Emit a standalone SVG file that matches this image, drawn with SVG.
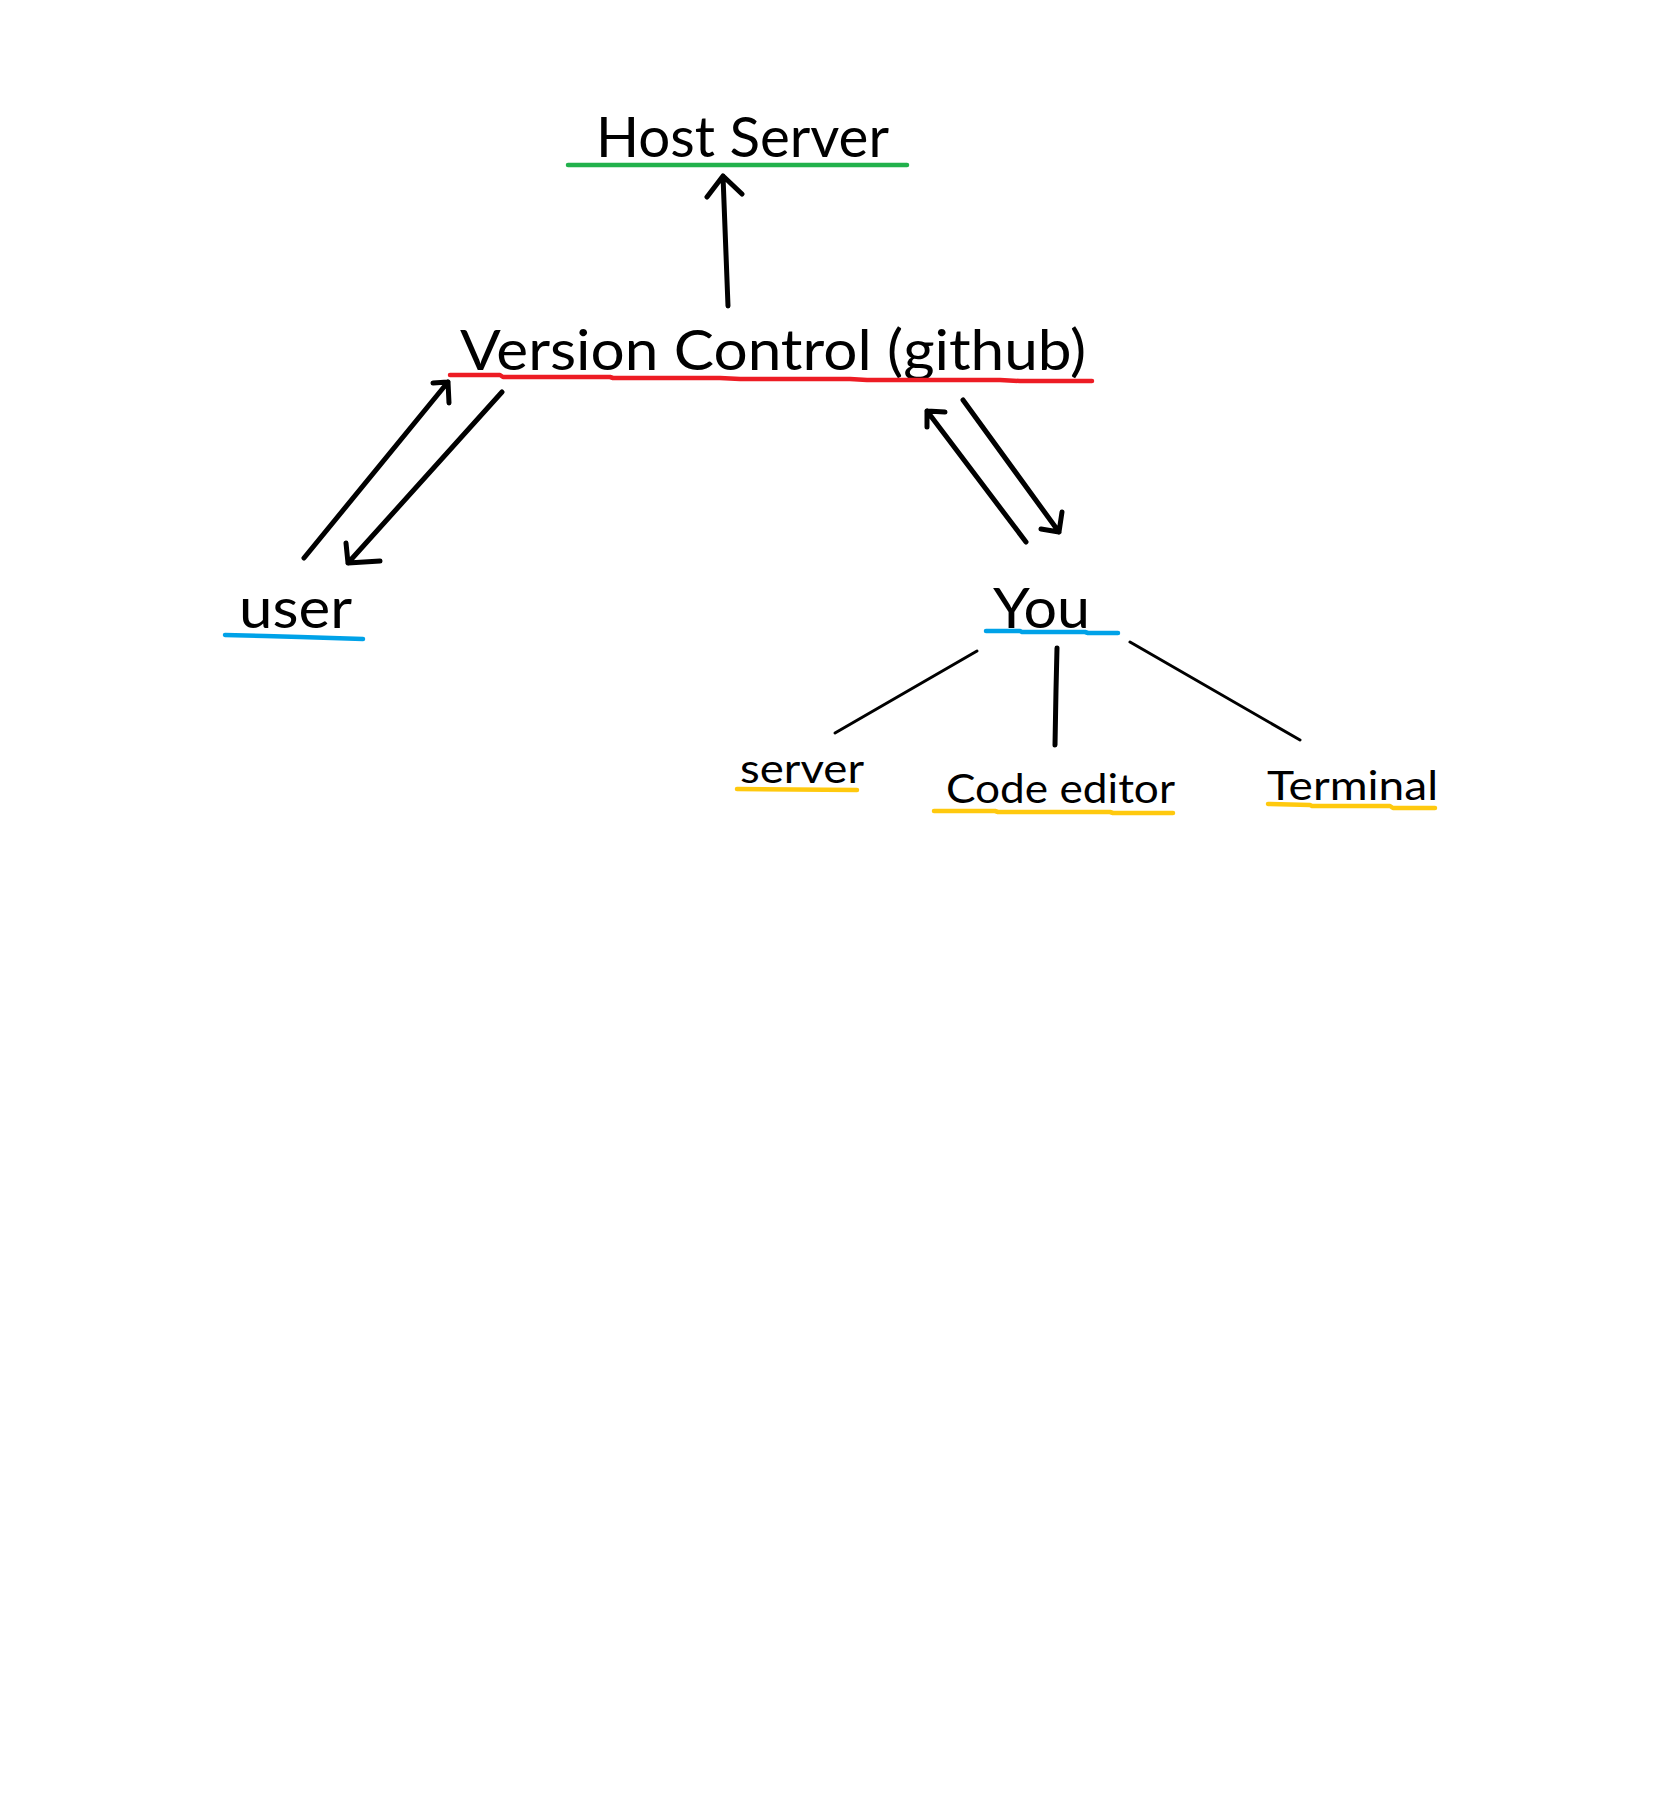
<svg xmlns="http://www.w3.org/2000/svg" width="1672" height="1808" viewBox="0 0 1672 1808">
<style>
  .lbl { font-family: Lato, "Open Sans", "Liberation Sans", sans-serif; fill: #000; }
  .big { font-size: 56px; }
  .small { font-size: 41px; }
  .ul { fill: none; stroke-width: 4.5; stroke-linecap: round; stroke-linejoin: round; }
  .green { stroke: #22b14c; }
  .red { stroke: #ed1c24; }
  .blue { stroke: #00a2e8; }
  .yellow { stroke: #ffc90e; }
  .arrow { fill: none; stroke: #000; stroke-width: 5; stroke-linecap: round; stroke-linejoin: round; }
  .thin { fill: none; stroke: #000; stroke-width: 3; stroke-linecap: round; }
</style>
<rect width="1672" height="1808" fill="#fff"/>

<g id="host-server">
  <text class="lbl big" x="596" y="157" textLength="293" lengthAdjust="spacingAndGlyphs">Host Server</text>
  <line class="ul green" x1="568" y1="165" x2="907" y2="165"/>
</g>

<g id="version-control">
  <text class="lbl big" x="460" y="370" textLength="626" lengthAdjust="spacingAndGlyphs">Version Control (github)</text>
  <polyline class="ul red" points="450,375 500,375 503,377 580,377 610,377 613,378 720,378 740,379 850,379 867,380 1000,380 1020,381 1092,381"/>
</g>

<g id="user">
  <text class="lbl big" x="239" y="628" textLength="113" lengthAdjust="spacingAndGlyphs">user</text>
  <polyline class="ul blue" points="225,635 265,636 300,637 363,639"/>
</g>

<g id="you">
  <text class="lbl big" x="993" y="628" textLength="97" lengthAdjust="spacingAndGlyphs">You</text>
  <polyline class="ul blue" points="986,631 1020,631 1022,632 1085,632 1088,633 1118,633"/>
</g>

<g id="server">
  <text class="lbl small" x="740" y="783" textLength="124" lengthAdjust="spacingAndGlyphs">server</text>
  <line class="ul yellow" x1="737" y1="789" x2="857" y2="790"/>
</g>

<g id="code-editor">
  <text class="lbl small" x="946" y="803" textLength="229" lengthAdjust="spacingAndGlyphs">Code editor</text>
  <polyline class="ul yellow" points="934,811 995,811 998,812 1110,812 1113,813 1173,813"/>
</g>

<g id="terminal">
  <text class="lbl small" x="1267" y="800" textLength="171" lengthAdjust="spacingAndGlyphs">Terminal</text>
  <polyline class="ul yellow" points="1268,804 1310,805 1312,806 1390,806 1393,808 1435,808"/>
</g>

<g id="connectors">
  <!-- Version Control -> Host Server -->
  <path class="arrow" d="M728,306 L723,176 M707,197 L723,176 L742,194"/>
  <!-- user -> Version Control -->
  <path class="arrow" d="M304,558 L448,382 M433,383 L448,382 L449,403"/>
  <!-- Version Control -> user -->
  <path class="arrow" d="M502,392 L348,563 M346,543 L348,563 L380,561"/>
  <!-- You -> Version Control -->
  <path class="arrow" d="M1026,542 L927,411 M945,412 L927,411 L927,427"/>
  <!-- Version Control -> You -->
  <path class="arrow" d="M963,400 L1059,532 M1062,512 L1059,532 L1041,529"/>
  <!-- You -> server -->
  <line class="thin" x1="977" y1="651" x2="835" y2="733"/>
  <!-- You -> Code editor -->
  <path class="arrow" d="M1057,648 L1056,690 L1055,745"/>
  <!-- You -> Terminal -->
  <line class="thin" x1="1130" y1="642" x2="1300" y2="740"/>
</g>
</svg>
